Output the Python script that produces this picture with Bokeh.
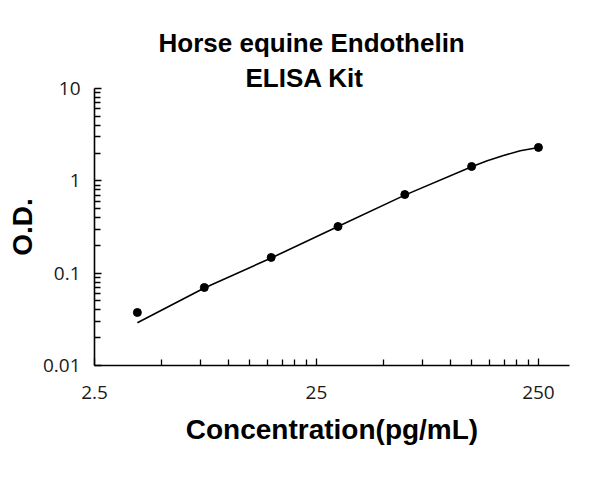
from bokeh.plotting import figure
from bokeh.models import FixedTicker, CustomJSTickFormatter, Range1d, Title
from bokeh.embed import file_html
from bokeh.resources import INLINE

# ---- data ----
conc = [3.9, 7.81, 15.63, 31.25, 62.5, 125, 250]
od = [0.0375, 0.070, 0.148, 0.320, 0.711, 1.43, 2.30]

curve_conc = [3.9, 7.81, 15.63, 31.25, 62.5, 125, 147, 174, 207, 250]
curve_od = [0.029, 0.069, 0.146, 0.32, 0.70, 1.42, 1.65, 1.88, 2.12, 2.30]

x_major = [2.5, 25, 250]
x_minor = [5, 7.5, 10, 12.5, 15, 17.5, 20, 22.5,
           50, 75, 100, 125, 150, 175, 200, 225]
y_major = [0.01, 0.1, 1, 10]
y_minor = [0.02, 0.03, 0.04, 0.05, 0.06, 0.07, 0.08, 0.09,
           0.2, 0.3, 0.4, 0.5, 0.6, 0.7, 0.8, 0.9,
           2, 3, 4, 5, 6, 7, 8, 9]

title_lines = ["Horse equine Endothelin", "ELISA Kit"]
x_label = "Concentration(pg/mL)"
y_label = "O.D."

p = figure(width=584, height=470, x_axis_type="log", y_axis_type="log",
           x_range=Range1d(2.5, 345), y_range=Range1d(0.01, 10),
           output_backend="svg", toolbar_location=None,
           min_border_left=94, min_border_right=15,
           min_border_top=88, min_border_bottom=105)

p.outline_line_color = None
p.xgrid.visible = False
p.ygrid.visible = False
p.background_fill_color = "white"
p.border_fill_color = "white"

def style_title(t, off, stand):
    t.text_font = "Liberation Sans"
    t.text_font_style = "bold"
    t.text_font_size = "26px"
    t.text_color = "black"
    t.align = "left"
    t.offset = off
    t.standoff = stand

# first line is the outer title; the added title sits next to the frame
p.title.text = title_lines[0]
style_title(p.title, 64, 14)
t2 = Title(text=title_lines[1])
style_title(t2, 151, -8)
p.add_layout(t2, "above")

fmt = CustomJSTickFormatter(code="return tick.toString()")

for ax, maj, mnr in ((p.xaxis[0], x_major, x_minor), (p.yaxis[0], y_major, y_minor)):
    ax.ticker = FixedTicker(ticks=maj, minor_ticks=mnr)
    ax.formatter = fmt
    ax.axis_line_color = "black"
    ax.axis_line_width = 1.6
    ax.major_tick_line_color = "black"
    ax.minor_tick_line_color = "black"
    ax.major_tick_line_width = 1.3
    ax.minor_tick_line_width = 1.3
    ax.major_tick_in = 7
    ax.major_tick_out = 0
    ax.minor_tick_in = 6
    ax.minor_tick_out = 0
    ax.major_label_text_font = "Open Sans"
    ax.major_label_text_font_size = "19px"
    ax.major_label_text_color = "#1a1a1a"
    ax.axis_label_text_font = "Liberation Sans"
    ax.axis_label_text_font_style = "bold"
    ax.axis_label_text_font_size = "28px"
    ax.axis_label_text_color = "black"

p.xaxis.axis_label = x_label
p.yaxis.axis_label = y_label
p.xaxis.major_label_standoff = 20
p.xaxis.axis_label_standoff = 12
p.yaxis.major_label_standoff = 14
p.yaxis.axis_label_standoff = 2

p.line(curve_conc, curve_od, line_color="black", line_width=1.6)
p.scatter(conc, od, size=8, fill_color="black", line_color="black")

open("out.html", "w").write(file_html(p, INLINE))
